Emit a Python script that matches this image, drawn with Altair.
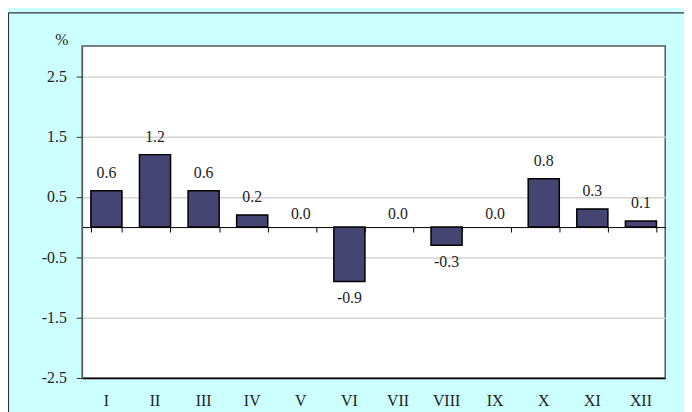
import altair as alt
import pandas as pd

months = ["I", "II", "III", "IV", "V", "VI", "VII", "VIII", "IX", "X", "XI", "XII"]
values = [0.6, 1.2, 0.6, 0.2, 0.0, -0.9, 0.0, -0.3, 0.0, 0.8, 0.3, 0.1]
y_ticks = [-2.5, -1.5, -0.5, 0.5, 1.5, 2.5]
y_min, y_max = -2.5, 3.0

df = pd.DataFrame({"month": months, "value": values})

W, H = 590, 336
FONT = "Liberation Serif"
FS = 16
zero_offset = -H * (0 - y_min) / (y_max - y_min)

xscale = alt.Scale(domain=months, paddingInner=0.36, paddingOuter=0.18)
yaxis = alt.Axis(
    values=y_ticks,
    labelExpr="replace(format(datum.value, '.1f'), '\u2212', '-')",
    title="%", titleAngle=0, titleX=-21, titleY=-1, titleAlign="center",
    titleBaseline="alphabetic", titleFont=FONT, titleFontSize=FS,
    titleFontWeight="normal", titleColor="#222",
    labelFont=FONT, labelFontSize=FS, labelColor="#222", labelPadding=10,
    tickSize=6, tickColor="#333", domainColor="#555",
    grid=True, gridColor="#d4d4d4", gridWidth=1.5,
)
y = alt.Y("value:Q", scale=alt.Scale(domain=[y_min, y_max], nice=False, zero=False), axis=yaxis)

base = alt.Chart(df)
one = alt.Chart(pd.DataFrame({"a": [0]}))

frame_top = one.mark_rule(stroke="#333", strokeWidth=1.2).encode(
    x=alt.value(-74.5), x2=alt.value(900), y=alt.value(-33.5)
)
frame_left = one.mark_rule(stroke="#333", strokeWidth=1.2).encode(
    x=alt.value(-74.5), y=alt.value(-33.5), y2=alt.value(700)
)

bars = base.transform_filter("datum.value != 0").mark_bar(
    color="#454573", stroke="#000", strokeWidth=1.5
).encode(
    x=alt.X("month:N", scale=xscale, sort=months, title=None,
            axis=alt.Axis(labelAngle=0, labelFont=FONT, labelFontSize=FS, labelColor="#222",
                          ticks=False, tickSize=0, labelPadding=23, labelBaseline="middle",
                          domainColor="#000", domainWidth=1.5, orient="bottom", grid=False)),
    y=y,
)

zero_line = base.mark_point(opacity=0).encode(
    x=alt.X("month:N", scale=xscale, sort=months, title=None,
            axis=alt.Axis(orient="bottom", offset=zero_offset, labels=False, ticks=True,
                          tickBand="extent", tickSize=5, tickColor="#000", tickWidth=1,
                          domainColor="#000", domainWidth=1, grid=False)),
    y=y,
)

def labels(cond, dy):
    return base.transform_filter(cond).transform_calculate(
        label="replace(format(datum.value, '.1f'), '\u2212', '-')"
    ).mark_text(font=FONT, fontSize=FS, color="#222", dy=dy, baseline="middle").encode(
        x=alt.X("month:N", scale=xscale, sort=months, axis=None),
        y=y,
        text="label:N",
    )

chart = alt.layer(
    frame_top, frame_left, bars, zero_line,
    labels("datum.value > 0", -18),
    labels("datum.value == 0", -13),
    labels("datum.value < 0", 17),
).resolve_axis(x="independent").properties(
    width=W, height=H,
    autosize=alt.AutoSizeParams(type="none"),
    padding={"left": 75, "top": 36, "right": 19, "bottom": 32},
).configure(background="#ccffff").configure_view(
    fill="#ffffff", stroke="#555", strokeWidth=1.5
)

chart.save("out.html", embed_options={"renderer": "svg", "actions": False})
